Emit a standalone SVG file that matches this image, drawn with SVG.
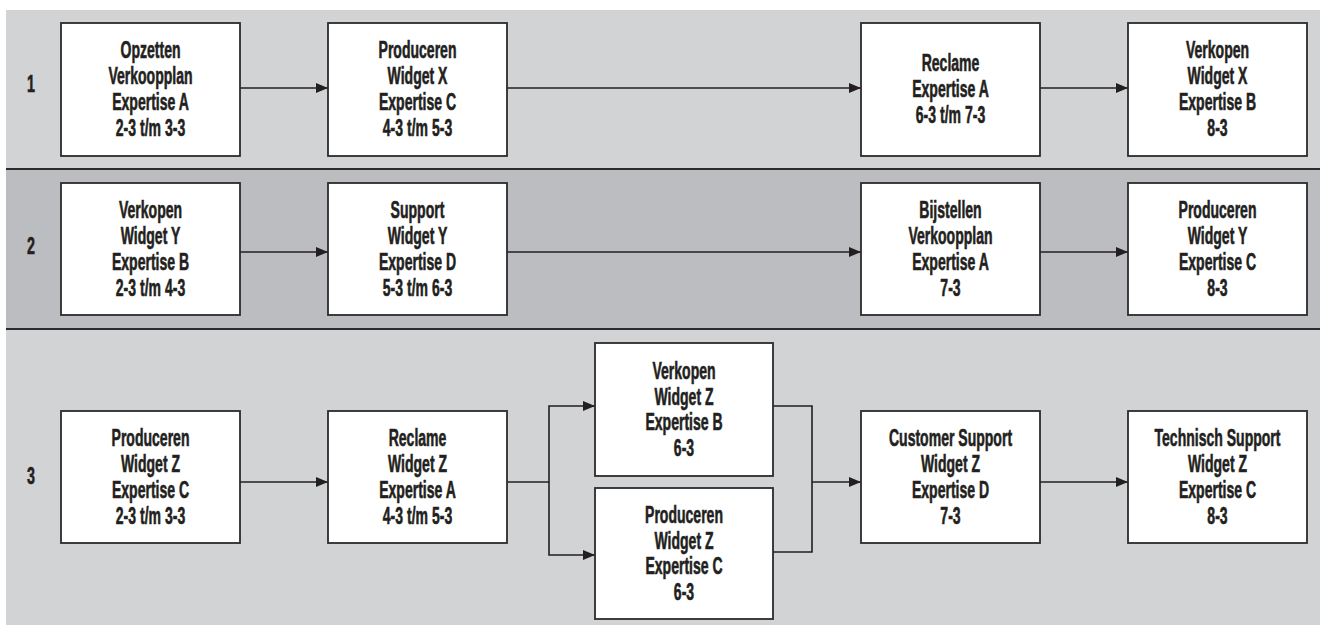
<svg xmlns="http://www.w3.org/2000/svg" width="1320" height="625" viewBox="0 0 1320 625">
<defs>
<style>
.band1{fill:#d1d3d4}
.band2{fill:#bcbdc0}
.sep{stroke:#2b2b2b;stroke-width:2;fill:none}
.box{fill:#ffffff;stroke:#2b2b2b;stroke-width:1.8}
.t{font-family:"Liberation Sans",Arial,sans-serif;font-weight:bold;font-size:23px;fill:#231f20;stroke:#231f20;stroke-width:0.6;text-anchor:middle}
.c{fill:none;stroke:#231f20;stroke-width:1.6}
</style>
<marker id="ah" viewBox="0 0 12 10" refX="12" refY="5" markerWidth="12" markerHeight="10" markerUnits="userSpaceOnUse" orient="auto">
<path d="M0,0 L12,5 L0,10 Z" fill="#231f20"/>
</marker>
</defs>
<rect width="1320" height="625" fill="#ffffff"/>
<g id="bands">
<rect class="band1" x="6" y="10" width="1314" height="159"/>
<rect class="band2" x="6" y="169" width="1314" height="160"/>
<rect class="band1" x="6" y="329" width="1314" height="296"/>
<line class="sep" x1="6" y1="169" x2="1320" y2="169"/>
<line class="sep" x1="6" y1="329" x2="1320" y2="329"/>
<text class="t" transform="translate(31 0) scale(0.62 1)"><tspan x="0" y="92">1</tspan></text>
<text class="t" transform="translate(31 0) scale(0.62 1)"><tspan x="0" y="254">2</tspan></text>
<text class="t" transform="translate(31 0) scale(0.62 1)"><tspan x="0" y="484">3</tspan></text>
</g>
<g id="connectors">
<line class="c" x1="240" y1="88" x2="328" y2="88" marker-end="url(#ah)"/>
<line class="c" x1="507" y1="88" x2="861" y2="88" marker-end="url(#ah)"/>
<line class="c" x1="1040" y1="88" x2="1128" y2="88" marker-end="url(#ah)"/>
<line class="c" x1="240" y1="252" x2="328" y2="252" marker-end="url(#ah)"/>
<line class="c" x1="507" y1="252" x2="861" y2="252" marker-end="url(#ah)"/>
<line class="c" x1="1040" y1="252" x2="1128" y2="252" marker-end="url(#ah)"/>
<line class="c" x1="240" y1="482" x2="328" y2="482" marker-end="url(#ah)"/>
<polyline class="c" points="507,482 549,482"/>
<polyline class="c" points="549,482 549,406 595,406" marker-end="url(#ah)"/>
<polyline class="c" points="549,482 549,555 595,555" marker-end="url(#ah)"/>
<polyline class="c" points="773,406 812,406 812,552 773,552"/>
<line class="c" x1="812" y1="482" x2="861" y2="482" marker-end="url(#ah)"/>
<line class="c" x1="1040" y1="482" x2="1128" y2="482" marker-end="url(#ah)"/>
</g>
<g id="n1">
<rect class="box" x="61" y="23" width="179" height="133"/>
<text class="t" transform="translate(150.5 89.5) scale(0.61 1)"><tspan x="0" y="-31.5">Opzetten</tspan><tspan x="0" y="-5.5">Verkoopplan</tspan><tspan x="0" y="20.5">Expertise A</tspan><tspan x="0" y="46.5">2-3 t/m 3-3</tspan></text>
</g>
<g id="n2">
<rect class="box" x="328" y="23" width="179" height="133"/>
<text class="t" transform="translate(417.5 89.5) scale(0.61 1)"><tspan x="0" y="-31.5">Produceren</tspan><tspan x="0" y="-5.5">Widget X</tspan><tspan x="0" y="20.5">Expertise C</tspan><tspan x="0" y="46.5">4-3 t/m 5-3</tspan></text>
</g>
<g id="n3">
<rect class="box" x="861" y="23" width="179" height="133"/>
<text class="t" transform="translate(950.5 89.5) scale(0.61 1)"><tspan x="0" y="-18.5">Reclame</tspan><tspan x="0" y="7.5">Expertise A</tspan><tspan x="0" y="33.5">6-3 t/m 7-3</tspan></text>
</g>
<g id="n4">
<rect class="box" x="1128" y="23" width="179" height="133"/>
<text class="t" transform="translate(1217.5 89.5) scale(0.61 1)"><tspan x="0" y="-31.5">Verkopen</tspan><tspan x="0" y="-5.5">Widget X</tspan><tspan x="0" y="20.5">Expertise B</tspan><tspan x="0" y="46.5">8-3</tspan></text>
</g>
<g id="n5">
<rect class="box" x="61" y="183" width="179" height="132"/>
<text class="t" transform="translate(150.5 249.5) scale(0.61 1)"><tspan x="0" y="-31.5">Verkopen</tspan><tspan x="0" y="-5.5">Widget Y</tspan><tspan x="0" y="20.5">Expertise B</tspan><tspan x="0" y="46.5">2-3 t/m 4-3</tspan></text>
</g>
<g id="n6">
<rect class="box" x="328" y="183" width="179" height="132"/>
<text class="t" transform="translate(417.5 249.5) scale(0.61 1)"><tspan x="0" y="-31.5">Support</tspan><tspan x="0" y="-5.5">Widget Y</tspan><tspan x="0" y="20.5">Expertise D</tspan><tspan x="0" y="46.5">5-3 t/m 6-3</tspan></text>
</g>
<g id="n7">
<rect class="box" x="861" y="183" width="179" height="132"/>
<text class="t" transform="translate(950.5 249.5) scale(0.61 1)"><tspan x="0" y="-31.5">Bijstellen</tspan><tspan x="0" y="-5.5">Verkoopplan</tspan><tspan x="0" y="20.5">Expertise A</tspan><tspan x="0" y="46.5">7-3</tspan></text>
</g>
<g id="n8">
<rect class="box" x="1128" y="183" width="179" height="132"/>
<text class="t" transform="translate(1217.5 249.5) scale(0.61 1)"><tspan x="0" y="-31.5">Produceren</tspan><tspan x="0" y="-5.5">Widget Y</tspan><tspan x="0" y="20.5">Expertise C</tspan><tspan x="0" y="46.5">8-3</tspan></text>
</g>
<g id="n9">
<rect class="box" x="61" y="411" width="179" height="132"/>
<text class="t" transform="translate(150.5 477) scale(0.61 1)"><tspan x="0" y="-31">Produceren</tspan><tspan x="0" y="-5">Widget Z</tspan><tspan x="0" y="21">Expertise C</tspan><tspan x="0" y="47">2-3 t/m 3-3</tspan></text>
</g>
<g id="n10">
<rect class="box" x="328" y="411" width="179" height="132"/>
<text class="t" transform="translate(417.5 477) scale(0.61 1)"><tspan x="0" y="-31">Reclame</tspan><tspan x="0" y="-5">Widget Z</tspan><tspan x="0" y="21">Expertise A</tspan><tspan x="0" y="47">4-3 t/m 5-3</tspan></text>
</g>
<g id="n11">
<rect class="box" x="595" y="343" width="178" height="133"/>
<text class="t" transform="translate(684 409.5) scale(0.61 1)"><tspan x="0" y="-31">Verkopen</tspan><tspan x="0" y="-5">Widget Z</tspan><tspan x="0" y="21">Expertise B</tspan><tspan x="0" y="47">6-3</tspan></text>
</g>
<g id="n12">
<rect class="box" x="595" y="488" width="178" height="131"/>
<text class="t" transform="translate(684 553.5) scale(0.61 1)"><tspan x="0" y="-31">Produceren</tspan><tspan x="0" y="-5">Widget Z</tspan><tspan x="0" y="21">Expertise C</tspan><tspan x="0" y="47">6-3</tspan></text>
</g>
<g id="n13">
<rect class="box" x="861" y="411" width="179" height="132"/>
<text class="t" transform="translate(950.5 477) scale(0.61 1)"><tspan x="0" y="-31">Customer Support</tspan><tspan x="0" y="-5">Widget Z</tspan><tspan x="0" y="21">Expertise D</tspan><tspan x="0" y="47">7-3</tspan></text>
</g>
<g id="n14">
<rect class="box" x="1128" y="411" width="179" height="132"/>
<text class="t" transform="translate(1217.5 477) scale(0.61 1)"><tspan x="0" y="-31">Technisch Support</tspan><tspan x="0" y="-5">Widget Z</tspan><tspan x="0" y="21">Expertise C</tspan><tspan x="0" y="47">8-3</tspan></text>
</g>
</svg>
